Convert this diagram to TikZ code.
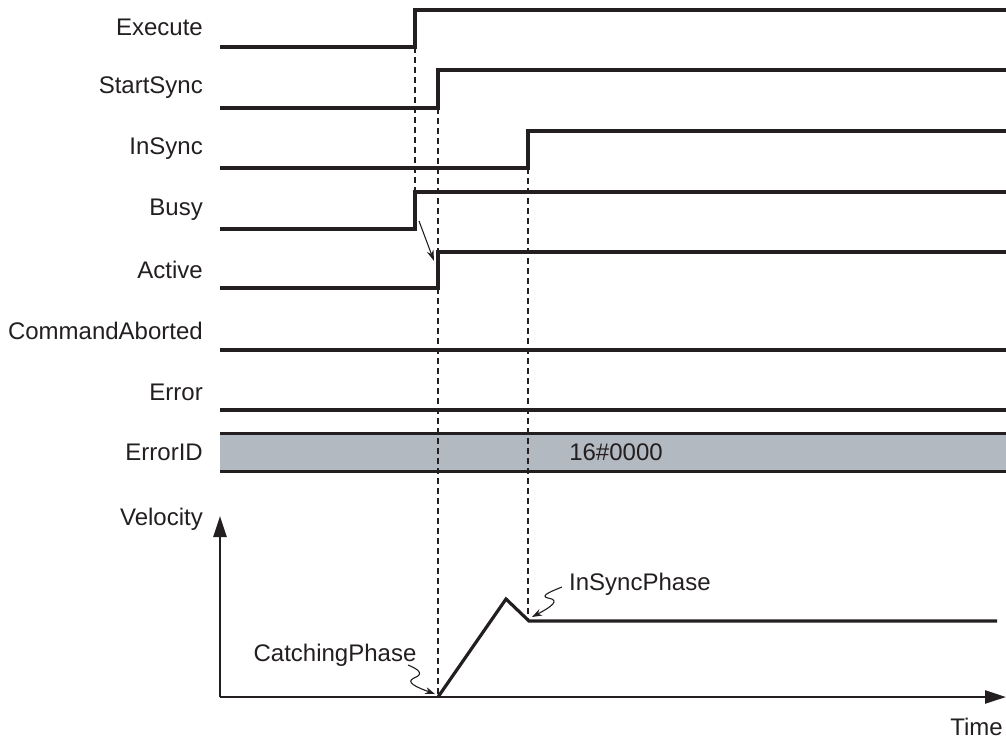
\documentclass[tikz,border=0pt]{standalone}
\usepackage{fontspec}
\setmainfont{Liberation Sans}
\usetikzlibrary{arrows.meta}
\definecolor{bandgray}{RGB}{179,185,192}
\definecolor{ink}{RGB}{35,31,32}
\begin{document}
\begin{tikzpicture}[x=1pt,y=-1pt,
  lbl/.style={anchor=east,inner sep=0pt,text=ink,font=\fontsize{24}{26}\selectfont},
  txt/.style={inner sep=0pt,text=ink,font=\fontsize{24}{26}\selectfont},
  sig/.style={draw=ink,line width=3.2pt,line join=miter},
  guide/.style={draw=ink,line width=1.2pt,dash pattern=on 6pt off 4pt},
  ax/.style={draw=ink,line width=2.4pt,-{Triangle[length=21pt,width=13pt]}},
  callout/.style={draw=ink,line width=1.1pt,-{Stealth[length=10pt,width=7pt]}}]
\useasboundingbox (0,0) rectangle (1006,742);
% labels
\node[lbl] (lexec) at (203,27) {Execute};
\node[lbl] (lss) at (203,88) {StartSync};
\node[lbl] (lins) at (203,149) {InSync};
\node[lbl] (lbusy) at (203,210) {Busy};
\node[lbl] (lact) at (203,270) {Active};
\node[lbl] (lca) at (203,331) {CommandAborted};
\node[lbl] (lerr) at (203,392) {Error};
\node[lbl] (leid) at (203,452) {ErrorID};
\node[lbl] (lvel) at (203,519) {Velocity};
% error ID band
\fill[bandgray] (220,433) rectangle (1006,471);
\draw[ink,line width=3pt] (220,433) -- (1006,433) (220,471) -- (1006,471);
\node[txt] (eid) at (616,452) {16\#0000};
% guides
\draw[guide] (415,47) -- (415,192);
\draw[guide] (438,108) -- (438,697);
\draw[guide] (528,168) -- (528,620);
% waveforms
\draw[sig] (220,47) -- (415,47) -- (415,10) -- (1006,10);
\draw[sig] (220,108) -- (438,108) -- (438,70) -- (1006,70);
\draw[sig] (220,168) -- (528,168) -- (528,131) -- (1006,131);
\draw[sig] (220,229) -- (415,229) -- (415,192) -- (1006,192);
\draw[sig] (220,288) -- (438,288) -- (438,252) -- (1006,252);
\draw[sig] (220,350) -- (1006,350);
\draw[sig] (220,410) -- (1006,410);
% causality arrow
\coordinate (bsrc) at (419,221);
\coordinate (adst) at (434,261);
\draw[ink,line width=1.1pt,-{Stealth[length=11pt,width=7pt]}] (bsrc) -- (adst);
% velocity axes
\coordinate (orig) at (220,697);
\coordinate (vtop) at (220,516);
\coordinate (tend) at (1006,697);
\draw[ax] (orig) -- (vtop);
\draw[ax] (orig) -- (tend);
\node[txt,anchor=east] (ltime) at (1003,727) {Time};
% velocity profile
\draw[sig] (438,697) -- (506,599) -- (529,621) -- (997,621);
% callouts
\node[txt] (lcatch) at (335,655) {CatchingPhase};
\node[txt,anchor=west] (linsp) at (569,584) {InSyncPhase};
\draw[callout] (408,665) .. controls (418,669) and (425,674) .. (414,678)
   .. controls (405,682) and (416,687) .. (435,694);
\draw[callout] (562,587) .. controls (552,591) and (539,596) .. (548,598)
   .. controls (561,600) and (551,607) .. (532,617);
\end{tikzpicture}
\end{document}
